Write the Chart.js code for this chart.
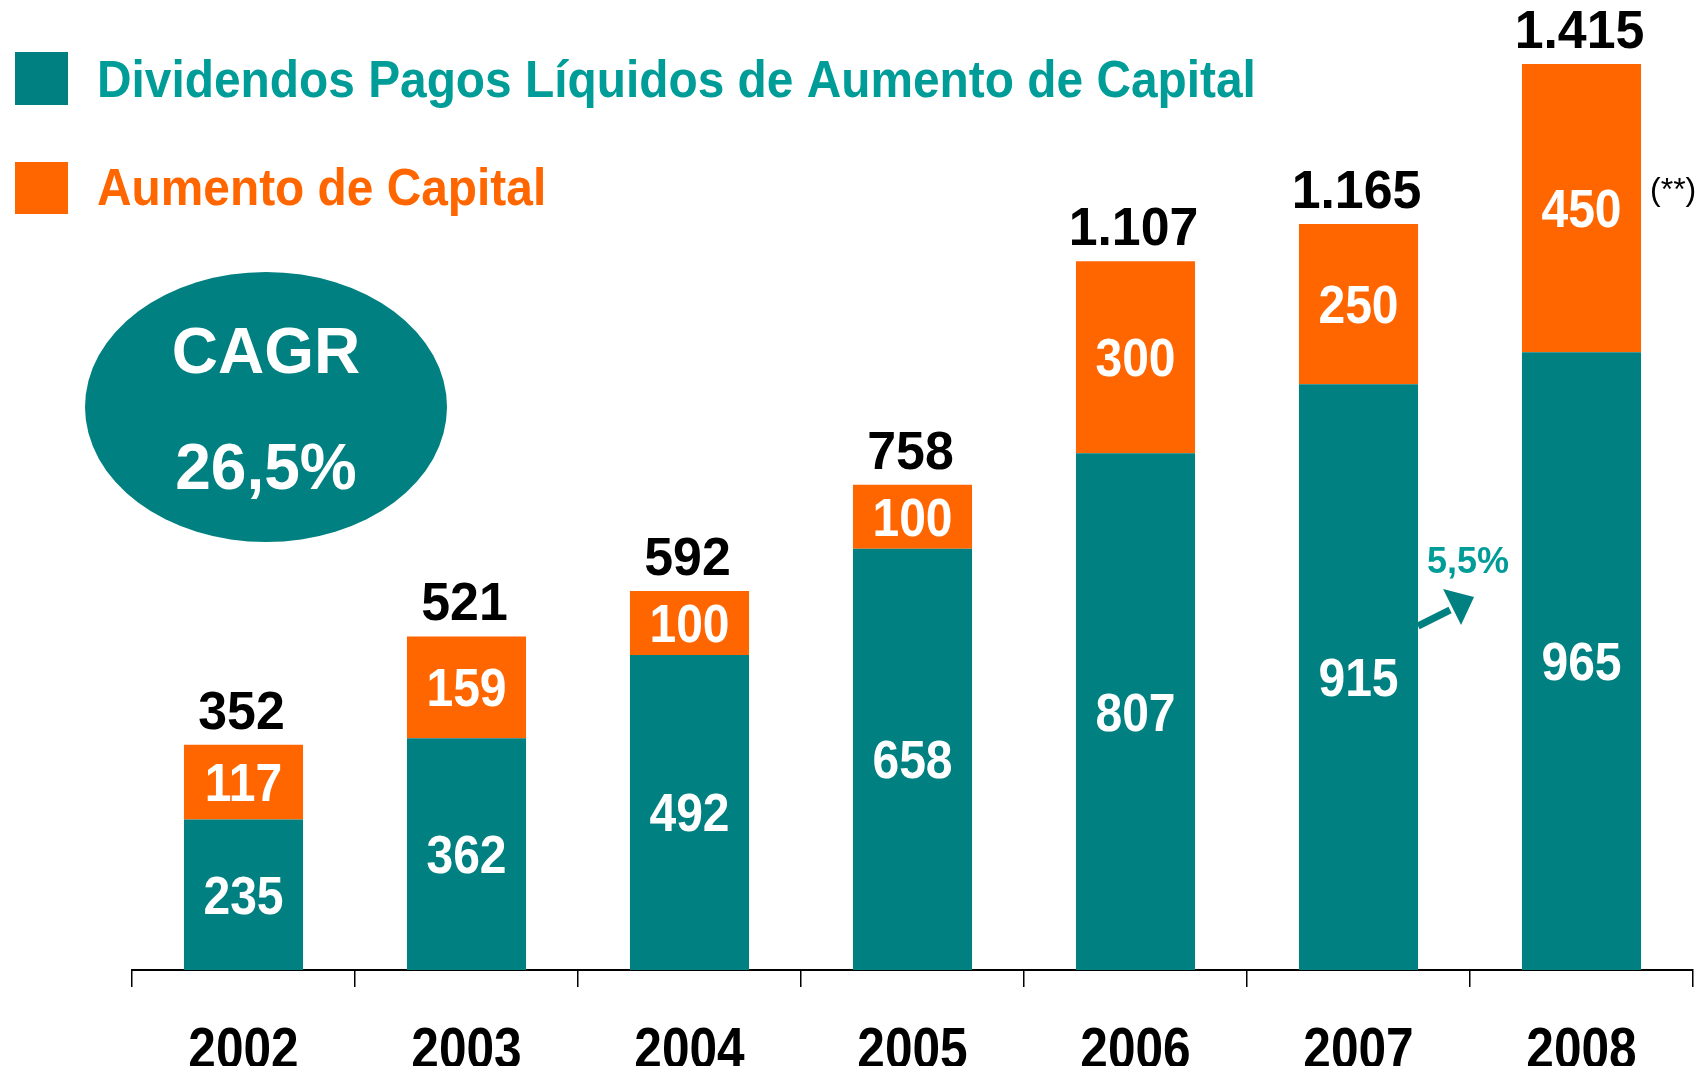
<!DOCTYPE html>
<html>
<head>
<meta charset="utf-8">
<script src="https://cdn.jsdelivr.net/npm/chart.js@4.4.0/dist/chart.umd.min.js"></script>
<style>
html, body { margin: 0; padding: 0; background: #fff; }
#wrap { width: 1696px; height: 1066px; overflow: hidden; }
</style>
</head>
<body>
<div id="wrap"><canvas id="dividendos" width="1696" height="1066"></canvas></div>
<script>
// dados
const anos = ['2002', '2003', '2004', '2005', '2006', '2007', '2008'];
const dividendosLiquidos = [235, 362, 492, 658, 807, 915, 965];
const aumentoCapital = [117, 159, 100, 100, 300, 250, 450];
const totais = [352, 521, 592, 758, 1107, 1165, 1415];
const legendas = ['Dividendos Pagos Líquidos de Aumento de Capital', 'Aumento de Capital'];

const TEAL = '#008080';
const LARANJA = '#FF6600';
const TEAL_TXT = '#009C98';
const FONTE = '"Liberation Sans", Arial, sans-serif';

function fmt(v) {
    return v.toString().replace(/\B(?=(\d{3})+(?!\d))/g, '.');
}

// texto com compressão horizontal (a fonte original é mais estreita)
function texto(ctx, str, x, y, size, color, sx, align, weight) {
    ctx.save();
    ctx.translate(x, y);
    ctx.scale(sx, 1);
    ctx.font = (weight || 'bold') + ' ' + size + 'px ' + FONTE;
    ctx.fillStyle = color;
    ctx.textAlign = align || 'center';
    ctx.textBaseline = 'alphabetic';
    ctx.fillText(str, 0, 0);
    ctx.restore();
}

const rotulos = {
    id: 'rotulos',
    afterDraw(chart) {
        const ctx = chart.ctx;
        const base = chart.getDatasetMeta(0).data;
        const topo = chart.getDatasetMeta(1).data;

        // legenda
        ctx.fillStyle = TEAL;
        ctx.fillRect(15, 52, 53, 53);
        texto(ctx, legendas[0], 97, 97, 52, TEAL_TXT, 0.92, 'left');
        ctx.fillStyle = LARANJA;
        ctx.fillRect(15, 162, 53, 52);
        texto(ctx, legendas[1], 97, 205, 52, LARANJA, 0.92, 'left');

        // CAGR
        ctx.fillStyle = TEAL;
        ctx.beginPath();
        ctx.ellipse(266, 407, 181, 135, 0, 0, Math.PI * 2);
        ctx.fill();
        texto(ctx, 'CAGR', 266, 373, 64, '#fff', 1, 'center');
        texto(ctx, '26,5%', 266, 489, 64, '#fff', 1, 'center');

        // valores
        for (let i = 0; i < anos.length; i++) {
            const b = base[i], t = topo[i];
            texto(ctx, String(dividendosLiquidos[i]), b.x, (b.y + b.base) / 2 + 19, 54, '#fff', 0.89);
            texto(ctx, String(aumentoCapital[i]), t.x, (t.y + t.base) / 2 + 19, 54, '#fff', 0.89);
            texto(ctx, fmt(totais[i]), t.x - 2, t.y - 16, 54, '#000', 0.96);
            texto(ctx, anos[i], b.x, 1068, 57, '#000', 0.87);
        }

        // (**) e seta 5,5%
        const u = topo[6];
        texto(ctx, '(**)', u.x + u.width / 2 + 9, 200, 32, '#000', 1, 'left', 'normal');
        const p = base[5];
        const x0 = p.x + p.width / 2;
        ctx.strokeStyle = TEAL;
        ctx.lineWidth = 7;
        ctx.beginPath();
        ctx.moveTo(x0, 626);
        ctx.lineTo(x0 + 32, 610);
        ctx.stroke();
        ctx.fillStyle = TEAL;
        ctx.beginPath();
        ctx.moveTo(x0 + 25, 589);
        ctx.lineTo(x0 + 56, 597);
        ctx.lineTo(x0 + 43, 625);
        ctx.closePath();
        ctx.fill();
        texto(ctx, '5,5%', x0 + 50, 573, 36, TEAL_TXT, 1, 'center');
    }
};

new Chart(document.getElementById('dividendos'), {
    type: 'bar',
    data: {
        labels: anos,
        datasets: [{
            label: legendas[0],
            data: dividendosLiquidos,
            backgroundColor: TEAL
        }, {
            label: legendas[1],
            data: aumentoCapital,
            backgroundColor: LARANJA
        }]
    },
    options: {
        responsive: false,
        animation: false,
        devicePixelRatio: 1,
        layout: { padding: { left: 132, right: 3, top: 0, bottom: 0 } },
        datasets: { bar: { categoryPercentage: 1, barPercentage: 0.534 } },
        plugins: { legend: { display: false }, tooltip: { enabled: false } },
        scales: {
            x: {
                stacked: true,
                ticks: { display: false },
                grid: {
                    display: true,
                    drawOnChartArea: false,
                    drawTicks: true,
                    tickLength: 17,
                    color: '#000',
                    lineWidth: 1.5
                },
                border: { display: true, color: '#000', width: 2 },
                afterFit(scale) { scale.height = 96; }
            },
            y: {
                stacked: true,
                display: false,
                min: 0,
                max: 1515
            }
        }
    },
    plugins: [rotulos]
});
</script>
</body>
</html>
